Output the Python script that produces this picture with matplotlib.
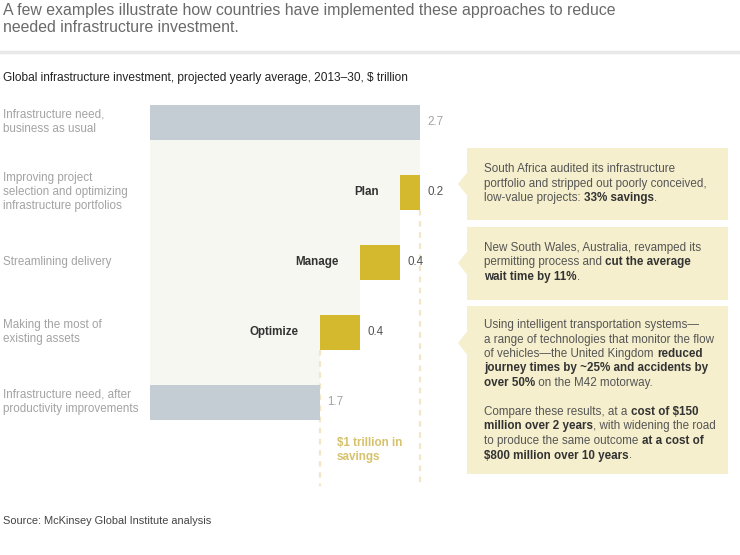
import matplotlib
matplotlib.use("Agg")
import matplotlib.pyplot as plt
from matplotlib.patches import Polygon

plt.rcParams["font.family"] = ["Liberation Sans", "DejaVu Sans"]

# --- data ---
row_labels = [
    "Infrastructure need,\nbusiness as usual",
    "Improving project\nselection and optimizing\ninfrastructure portfolios",
    "Streamlining delivery",
    "Making the most of\nexisting assets",
    "Infrastructure need, after\nproductivity improvements",
]
step_names = ["", "Plan", "Manage", "Optimize", ""]
values = [2.7, 0.2, 0.4, 0.4, 1.7]
is_total = [True, False, False, False, True]

title = ("A few examples illustrate how countries have implemented these approaches to reduce\n"
         "needed infrastructure investment.")
subtitle = "Global infrastructure investment, projected yearly average, 2013\u201330, $ trillion"
source = "Source: McKinsey Global Institute analysis"
savings_note = "$1 trillion in\nsavings"

# callout boxes: list of lines, each line a list of (text, bold)
box1 = [
    [("South Africa audited its infrastructure", False)],
    [("portfolio and stripped out poorly conceived,", False)],
    [("low-value projects: ", False), ("33% savings", True), (".", False)],
]
box2 = [
    [("New South Wales, Australia, revamped its", False)],
    [("permitting process and ", False), ("cut the average", True)],
    [("wait time by 11%", True), (".", False)],
]
box3 = [
    [("Using intelligent transportation systems\u2014", False)],
    [("a range of technologies that monitor the flow", False)],
    [("of vehicles\u2014the United Kingdom ", False), ("reduced", True)],
    [("journey times by ~25% and accidents by", True)],
    [("over 50%", True), (" on the M42 motorway.", False)],
    [],
    [("Compare these results, at a ", False), ("cost of $150", True)],
    [("million over 2 years", True), (", with widening the road", False)],
    [("to produce the same outcome ", False), ("at a cost of", True)],
    [("$800 million over 10 years", True), (".", False)],
]

GRAY_BAR = "#c4cdd3"
GOLD = "#d4b92e"
BG = "#f7f7f2"
BOX = "#f5efcd"
LABEL_GRAY = "#a3a3a3"
BODY = "#555555"
DARK = "#333333"
FS = 8.4

W, H = 740, 555
fig = plt.figure(figsize=(W / 100, H / 100), dpi=100)

# overlay axes in pixel coordinates for the text furniture
ov = fig.add_axes([0, 0, 1, 1])
ov.set_xlim(0, W)
ov.set_ylim(H, 0)
ov.axis("off")

ov.text(3, 19, title, fontsize=11.4, color="#6a6a6a", va="center", linespacing=1.25)
ov.axhline(52, color="#e8e8e8", lw=2.5)
ov.text(3, 78, subtitle, fontsize=8.6, color="#222222", va="center")
ov.text(3, 521, source, fontsize=7.9, color="#444444", va="center")

# --- waterfall axes: 100 px per trillion, 70 px per row ---
ax = fig.add_axes([150 / W, 1 - 493 / H, 270 / W, 406 / H])
ax.set_xlim(0, 2.7)
ax.set_ylim(5.3, -0.5)
ax.axis("off")
ax.patch.set_alpha(0)

lefts = []
level = values[0]
for v, tot in zip(values, is_total):
    if tot:
        lefts.append(0)
    else:
        level -= v
        lefts.append(level)

# background staircase (remaining investment between rows)
for i in range(len(values) - 1):
    top = i + 0.25 if i == 0 else i - 0.25
    right = values[0] if i == 0 else lefts[i]
    ax.barh((top + i + 0.75) / 2, right, height=i + 0.75 - top, left=0,
            color=BG, zorder=0)

for i, (v, l, tot) in enumerate(zip(values, lefts, is_total)):
    ax.barh(i, v, left=l, height=0.5, color=GRAY_BAR if tot else GOLD, zorder=2)
    ax.text(l + v + 0.07, i, f"{v:.1f}", fontsize=FS, va="center", ha="left",
            color=LABEL_GRAY if tot else BODY, zorder=3)
    if step_names[i]:
        ax.text(l - 0.21, i, step_names[i], fontsize=FS, fontweight="bold",
                ha="right", va="center", color=DARK, zorder=3)

# dashed guides marking the savings
dash_kw = dict(color="#f1e6c6", lw=1.6, ls=(0, (2.5, 2.5)), zorder=1, clip_on=False)
ax.plot([values[0]] * 2, [1.25, 5.2], **dash_kw)
ax.plot([values[-1]] * 2, [3.25, 5.2], **dash_kw)
ax.text(values[-1] + 0.17, 4.69, savings_note, fontsize=FS, fontweight="bold",
        color="#d6c26c", va="center", linespacing=1.2)

# row labels on the left (pixel overlay)
for i, lab in enumerate(row_labels):
    ov.text(3, 122 + 70 * i, lab, fontsize=FS, color=LABEL_GRAY, va="center",
            linespacing=1.25)

# --- callout boxes ---
renderer = fig.canvas.get_renderer()


def seg_width(s, bold):
    t1 = ov.text(0, 0, s + "|", fontsize=FS, fontweight="bold" if bold else "normal")
    t2 = ov.text(0, 0, "|", fontsize=FS, fontweight="bold" if bold else "normal")
    w = t1.get_window_extent(renderer).width - t2.get_window_extent(renderer).width
    t1.remove()
    t2.remove()
    return w


def draw_box(top, bottom, tip_y, lines, first_y, step=14.5):
    x0, x1 = 467, 728
    poly = [(x0, top), (x1, top), (x1, bottom), (x0, bottom),
            (x0, tip_y + 11.5), (458, tip_y), (x0, tip_y - 11.5)]
    ov.add_patch(Polygon(poly, closed=True, facecolor=BOX, edgecolor="none"))
    y = first_y
    for line in lines:
        x = 484
        for s, bold in line:
            ov.text(x, y, s, fontsize=FS, va="center",
                    fontweight="bold" if bold else "normal",
                    color=DARK if bold else BODY)
            x += seg_width(s, bold)
        y += step


draw_box(148, 220, 184, box1, 169)
draw_box(227, 300, 263, box2, 248)
draw_box(306, 474, 343, box3, 325)

fig.savefig("out.png", dpi=100)
